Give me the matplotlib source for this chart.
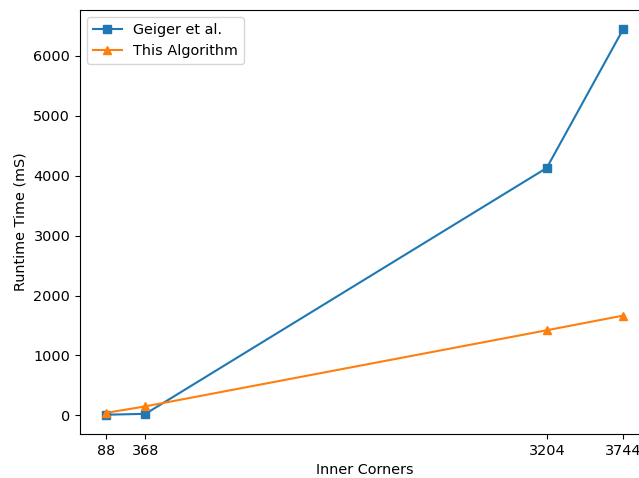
import matplotlib
matplotlib.use("Agg")
from matplotlib import pyplot as plt

corners = [88, 368, 3204, 3744]
geiger_ms = [10, 25, 4130, 6445]
ours_ms = [40, 150, 1420, 1665]


def main():
    plt.rcParams['font.size'] = 10.4
    fig = plt.figure(figsize=(6.39, 4.78), dpi=100)
    ax = fig.add_axes([80 / 639, 44 / 478, 569 / 639, 424 / 478])
    ax.plot(corners, geiger_ms, marker='s', label='Geiger et al.')
    ax.plot(corners, ours_ms, marker='^', label='This Algorithm')
    ax.set_xticks(corners)
    ax.set_xlabel('Inner Corners')
    ax.set_ylabel('Runtime Time (mS)')
    ax.legend(loc='upper left')
    fig.savefig('out.png', dpi=100)


if __name__ == "__main__":
    main()
